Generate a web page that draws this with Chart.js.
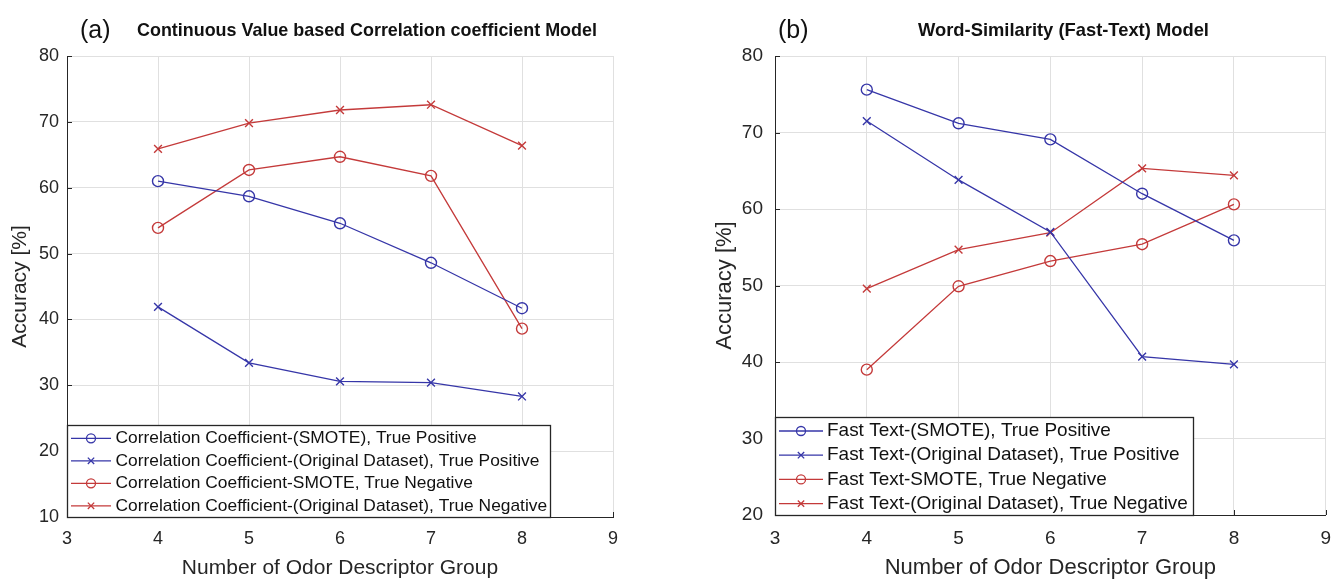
<!DOCTYPE html>
<html>
<head>
<meta charset="utf-8">
<script src="https://cdn.jsdelivr.net/npm/chart.js@4.4.0/dist/chart.umd.min.js"></script>
<style>
  html, body { margin:0; padding:0; background:#fff; width:1343px; height:581px; overflow:hidden; }
  .panel { position:absolute; top:0; }
  .tag { position:absolute; font-family:'Liberation Sans', Arial, sans-serif; font-size:25px; color:#111; line-height:1; }
  .ttl { position:absolute; font-family:'Liberation Sans Narrow', 'Liberation Sans', sans-serif; font-weight:bold;
         font-size:19px; color:#111; white-space:nowrap; line-height:1; transform-origin:0 50%; }
</style>
</head>
<body>
<canvas id="chartA" class="panel" style="left:0px" width="660" height="581"></canvas>
<canvas id="chartB" class="panel" style="left:690px" width="653" height="581"></canvas>
<div class="tag" style="left:80px;top:17px">(a)</div>
<div class="ttl" style="left:137px;top:20px" data-w="460">Continuous Value based Correlation coefficient Model</div>
<div class="tag" style="left:778px;top:17px">(b)</div>
<div class="ttl" style="left:918px;top:20px" data-w="291">Word-Similarity (Fast-Text) Model</div>
<script>
// ── data ──
const groups = [4, 5, 6, 7, 8];
const xTicks = [3, 4, 5, 6, 7, 8, 9];
const yTicksA = [10, 20, 30, 40, 50, 60, 70, 80];
const yTicksB = [20, 30, 40, 50, 60, 70, 80];

// (a) correlation coefficient model
const ccSmoteTP = [61.0, 58.7, 54.6, 48.6, 41.7];
const ccOrigTP  = [41.9, 33.4, 30.6, 30.4, 28.3];
const ccSmoteTN = [53.9, 62.7, 64.7, 61.8, 38.6];
const ccOrigTN  = [65.9, 69.8, 71.8, 72.6, 66.4];
const ccLabels = [
  'Correlation Coefficient-(SMOTE), True Positive',
  'Correlation Coefficient-(Original Dataset), True Positive',
  'Correlation Coefficient-SMOTE, True Negative',
  'Correlation Coefficient-(Original Dataset), True Negative'
];

// (b) fast-text model
const ftSmoteTP = [75.6, 71.2, 69.1, 62.0, 55.9];
const ftOrigTP  = [71.5, 63.8, 57.0, 40.7, 39.7];
const ftSmoteTN = [39.0, 49.9, 53.2, 55.4, 60.6];
const ftOrigTN  = [49.6, 54.7, 56.9, 65.3, 64.4];
const ftLabels = [
  'Fast Text-(SMOTE), True Positive',
  'Fast Text-(Original Dataset), True Positive',
  'Fast Text-SMOTE, True Negative',
  'Fast Text-(Original Dataset), True Negative'
];

const BLUE = '#3636a8', RED = '#c43a3a', INK = '#262626', GRID = '#e0e0e0';
const FONT = "'Liberation Sans', Arial, sans-serif";

// ── plugins ──
const innerTicks = {
  id: 'innerTicks',
  afterDraw(chart) {
    const { ctx, scales: { x, y }, chartArea: a } = chart;
    ctx.save();
    ctx.strokeStyle = INK; ctx.lineWidth = 1;
    ctx.beginPath();
    x.ticks.forEach(t => { const px = Math.round(x.getPixelForValue(t.value)) + 0.5; ctx.moveTo(px, a.bottom); ctx.lineTo(px, a.bottom - 5); });
    y.ticks.forEach(t => { const py = Math.round(y.getPixelForValue(t.value)) + 0.5; ctx.moveTo(a.left, py); ctx.lineTo(a.left + 5, py); });
    ctx.stroke();
    ctx.restore();
  }
};

const boxLegend = {
  id: 'boxLegend',
  afterDraw(chart, args, o) {
    const { ctx, chartArea: a } = chart;
    const x0 = Math.round(a.left), y0 = Math.round(a.bottom - o.height);
    ctx.save();
    ctx.fillStyle = '#fff';
    ctx.fillRect(x0, y0, o.width, o.height);
    ctx.strokeStyle = INK; ctx.lineWidth = 1.3;
    ctx.strokeRect(x0 + 0.5, y0 + 0.5, o.width - 1, Math.round(a.bottom) - y0);
    // fit the longest label to the measured width
    ctx.font = `${o.fontSize}px ${FONT}`;
    const longest = Math.max(...chart.data.datasets.map(d => ctx.measureText(d.label).width));
    const size = o.fontSize * o.textWidth / longest;
    ctx.font = `${size}px ${FONT}`;
    ctx.textBaseline = 'middle';
    chart.data.datasets.forEach((ds, i) => {
      const y = y0 + o.firstRow + i * o.rowGap;
      ctx.strokeStyle = ds.borderColor; ctx.lineWidth = 1.3;
      ctx.beginPath(); ctx.moveTo(x0 + o.lineFrom, y); ctx.lineTo(x0 + o.lineTo, y); ctx.stroke();
      ctx.fillStyle = 'rgba(0,0,0,0)';
      Chart.helpers.drawPoint(ctx, { pointStyle: ds.pointStyle, radius: 4.5, borderWidth: 1.3 }, x0 + (o.lineFrom + o.lineTo) / 2, y);
      ctx.fillStyle = '#111';
      ctx.fillText(ds.label, x0 + o.textX, y);
    });
    ctx.restore();
  }
};

function series(label, vals, color, marker) {
  return {
    label, data: groups.map((g, i) => ({ x: g, y: vals[i] })),
    borderColor: color, borderWidth: 1.3, tension: 0,
    pointStyle: marker, pointRadius: 5.5, pointBorderWidth: 1.4,
    pointBorderColor: color, pointBackgroundColor: 'rgba(0,0,0,0)'
  };
}

function makePanel(id, sets, p) {
  new Chart(document.getElementById(id), {
    type: 'line',
    data: { datasets: sets },
    plugins: [innerTicks, boxLegend],
    options: {
      responsive: false, animation: false, devicePixelRatio: 1,
      layout: { padding: { top: p.top, right: p.right, left: 0, bottom: 0 } },
      plugins: { legend: { display: false }, tooltip: { enabled: false }, boxLegend: p.legend },
      scales: {
        x: {
          type: 'linear', min: 3, max: 9,
          afterBuildTicks: s => { s.ticks = xTicks.map(v => ({ value: v })); },
          afterFit: s => { s.height = p.xHeight; },
          grid: { color: GRID, drawTicks: false },
          border: { color: INK, width: 1 },
          ticks: { color: INK, padding: p.xPad, font: { family: FONT, size: p.tick } },
          title: { display: true, text: 'Number of Odor Descriptor Group', color: INK,
                   font: { family: FONT, size: p.axisTitle }, padding: { top: p.xTitlePad, bottom: 0 } }
        },
        y: {
          min: p.yTicks[0], max: p.yTicks[p.yTicks.length - 1],
          afterBuildTicks: s => { s.ticks = p.yTicks.map(v => ({ value: v })); },
          afterFit: s => { s.width = p.yWidth; },
          grid: { color: GRID, drawTicks: false },
          border: { color: INK, width: 1 },
          ticks: { color: INK, padding: p.yPad, font: { family: FONT, size: p.tick } },
          title: { display: true, text: 'Accuracy [%]', color: INK,
                   font: { family: FONT, size: p.axisTitle }, padding: { top: p.yTitlePad, bottom: 0 } }
        }
      }
    }
  });
}

makePanel('chartA', [
  series(ccLabels[0], ccSmoteTP, BLUE, 'circle'),
  series(ccLabels[1], ccOrigTP, BLUE, 'crossRot'),
  series(ccLabels[2], ccSmoteTN, RED, 'circle'),
  series(ccLabels[3], ccOrigTN, RED, 'crossRot')
], {
  top: 56, right: 47, xHeight: 64, yWidth: 67, tick: 18, axisTitle: 21,
  xPad: 11, yPad: 8, xTitlePad: 2, yTitlePad: 8, yTicks: yTicksA,
  legend: { width: 484, height: 92, firstRow: 13.3, rowGap: 22.5, lineFrom: 4, lineTo: 44, textX: 48.5, fontSize: 16, textWidth: 432 }
});

makePanel('chartB', [
  series(ftLabels[0], ftSmoteTP, BLUE, 'circle'),
  series(ftLabels[1], ftOrigTP, BLUE, 'crossRot'),
  series(ftLabels[2], ftSmoteTN, RED, 'circle'),
  series(ftLabels[3], ftOrigTN, RED, 'crossRot')
], {
  top: 56, right: 17, xHeight: 66, yWidth: 85, tick: 19, axisTitle: 22,
  xPad: 12, yPad: 12, xTitlePad: 0, yTitlePad: 22, yTicks: yTicksB,
  legend: { width: 419, height: 98, firstRow: 14, rowGap: 24.2, lineFrom: 4, lineTo: 48, textX: 52, fontSize: 17, textWidth: 361 }
});

// squeeze the bold titles to the width they take in the figure
document.querySelectorAll('.ttl').forEach(el => {
  const w = el.getBoundingClientRect().width;
  el.style.transform = `scaleX(${(+el.dataset.w / w).toFixed(3)})`;
});
</script>
</body>
</html>
